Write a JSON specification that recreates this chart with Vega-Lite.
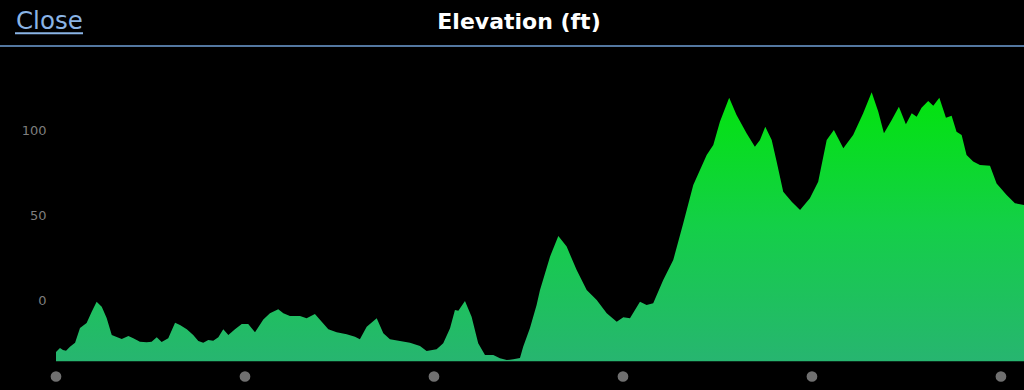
{
  "$schema": "https://vega.github.io/schema/vega-lite/v6.json",
  "width": 968,
  "height": 314.5,
  "autosize": {"type": "none"},
  "padding": {"left": 56, "top": 62, "right": 0, "bottom": 13.5},
  "background": "#000000",
  "config": {"view": {"stroke": null}},
  "datasets": {
    "elev": [
      {"d": 0, "e": -30.6}, {"d": 0.021, "e": -28.2}, {"d": 0.037, "e": -29.4}, {"d": 0.053, "e": -29.8},
      {"d": 0.074, "e": -27.5}, {"d": 0.101, "e": -25.1}, {"d": 0.127, "e": -16.5}, {"d": 0.162, "e": -13.5},
      {"d": 0.189, "e": -6.9}, {"d": 0.215, "e": -1.0}, {"d": 0.242, "e": -3.9}, {"d": 0.268, "e": -10.6},
      {"d": 0.295, "e": -20.6}, {"d": 0.321, "e": -21.8}, {"d": 0.348, "e": -22.9}, {"d": 0.383, "e": -21.2},
      {"d": 0.409, "e": -22.5}, {"d": 0.444, "e": -24.5}, {"d": 0.48, "e": -24.9}, {"d": 0.506, "e": -24.5},
      {"d": 0.533, "e": -21.9}, {"d": 0.559, "e": -24.7}, {"d": 0.594, "e": -22.5}, {"d": 0.63, "e": -13.4},
      {"d": 0.656, "e": -14.7}, {"d": 0.692, "e": -17.2}, {"d": 0.726, "e": -20.6}, {"d": 0.753, "e": -24.1},
      {"d": 0.779, "e": -25.1}, {"d": 0.806, "e": -23.5}, {"d": 0.832, "e": -23.9}, {"d": 0.859, "e": -21.9},
      {"d": 0.885, "e": -17.2}, {"d": 0.912, "e": -20.6}, {"d": 0.947, "e": -17.2}, {"d": 0.983, "e": -14.1},
      {"d": 1.017, "e": -14.1}, {"d": 1.053, "e": -19.0}, {"d": 1.097, "e": -11.4}, {"d": 1.132, "e": -7.8},
      {"d": 1.176, "e": -5.5}, {"d": 1.203, "e": -7.8}, {"d": 1.238, "e": -9.4}, {"d": 1.291, "e": -9.4},
      {"d": 1.326, "e": -10.8}, {"d": 1.37, "e": -8.2}, {"d": 1.406, "e": -12.8}, {"d": 1.441, "e": -17.2},
      {"d": 1.485, "e": -19.0}, {"d": 1.538, "e": -20.2}, {"d": 1.582, "e": -21.6}, {"d": 1.608, "e": -23.1},
      {"d": 1.644, "e": -15.7}, {"d": 1.697, "e": -10.8}, {"d": 1.732, "e": -19.6}, {"d": 1.767, "e": -23.1},
      {"d": 1.82, "e": -24.1}, {"d": 1.873, "e": -25.1}, {"d": 1.926, "e": -27.1}, {"d": 1.961, "e": -30.0},
      {"d": 2.014, "e": -29.0}, {"d": 2.049, "e": -25.5}, {"d": 2.085, "e": -16.6}, {"d": 2.111, "e": -5.9},
      {"d": 2.129, "e": -6.3}, {"d": 2.164, "e": -0.6}, {"d": 2.199, "e": -9.8}, {"d": 2.234, "e": -25.5},
      {"d": 2.27, "e": -32.4}, {"d": 2.314, "e": -32.4}, {"d": 2.349, "e": -34.3}, {"d": 2.385, "e": -35.3},
      {"d": 2.42, "e": -34.9}, {"d": 2.455, "e": -34.1}, {"d": 2.472, "e": -27.5}, {"d": 2.508, "e": -16.5},
      {"d": 2.543, "e": -2.9}, {"d": 2.561, "e": 5.9}, {"d": 2.614, "e": 25.5}, {"d": 2.658, "e": 37.6},
      {"d": 2.702, "e": 31.4}, {"d": 2.755, "e": 17.6}, {"d": 2.808, "e": 5.9}, {"d": 2.861, "e": 0},
      {"d": 2.914, "e": -7.8}, {"d": 2.967, "e": -12.8}, {"d": 3.002, "e": -10.2}, {"d": 3.037, "e": -10.8},
      {"d": 3.09, "e": -1.0}, {"d": 3.125, "e": -2.9}, {"d": 3.16, "e": -1.9}, {"d": 3.213, "e": 11.8},
      {"d": 3.266, "e": 23.5}, {"d": 3.319, "e": 45.1}, {"d": 3.372, "e": 67.6}, {"d": 3.443, "e": 85.3},
      {"d": 3.478, "e": 91.2}, {"d": 3.513, "e": 104.9}, {"d": 3.562, "e": 119.0}, {"d": 3.601, "e": 108.8},
      {"d": 3.654, "e": 98.1}, {"d": 3.698, "e": 90.2}, {"d": 3.725, "e": 94.1}, {"d": 3.753, "e": 101.9},
      {"d": 3.787, "e": 94.1}, {"d": 3.813, "e": 81.4}, {"d": 3.848, "e": 63.7}, {"d": 3.893, "e": 57.8},
      {"d": 3.937, "e": 52.9}, {"d": 3.989, "e": 59.8}, {"d": 4.033, "e": 69.6}, {"d": 4.078, "e": 94.1},
      {"d": 4.116, "e": 100.0}, {"d": 4.166, "e": 89.2}, {"d": 4.218, "e": 97.1}, {"d": 4.271, "e": 109.8},
      {"d": 4.316, "e": 122.2}, {"d": 4.351, "e": 110.8}, {"d": 4.381, "e": 98.1}, {"d": 4.422, "e": 105.9},
      {"d": 4.46, "e": 113.7}, {"d": 4.497, "e": 103.4}, {"d": 4.528, "e": 109.8}, {"d": 4.554, "e": 107.8},
      {"d": 4.58, "e": 113.1}, {"d": 4.615, "e": 117.1}, {"d": 4.642, "e": 114.3}, {"d": 4.674, "e": 119.0},
      {"d": 4.709, "e": 107.2}, {"d": 4.739, "e": 108.4}, {"d": 4.765, "e": 99.0}, {"d": 4.792, "e": 97.1},
      {"d": 4.818, "e": 85.3}, {"d": 4.853, "e": 81.4}, {"d": 4.889, "e": 79.4}, {"d": 4.942, "e": 79.0},
      {"d": 4.977, "e": 68.6}, {"d": 5.03, "e": 61.8}, {"d": 5.074, "e": 56.9}, {"d": 5.122, "e": 55.9}
    ],
    "marks": [{"d": 0}, {"d": 1}, {"d": 2}, {"d": 3}, {"d": 4}, {"d": 5}],
    "one": [{"k": 1}]
  },
  "layer": [
    {
      "data": {"name": "elev"},
      "mark": {
        "type": "area",
        "interpolate": "linear",
        "fill": {
          "gradient": "linear",
          "x1": 0, "y1": 0, "x2": 0, "y2": 1,
          "stops": [
            {"offset": 0, "color": "#02e40c"},
            {"offset": 0.5, "color": "#14cf48"},
            {"offset": 1, "color": "#27b570"}
          ]
        }
      },
      "encoding": {
        "x": {"field": "d", "type": "quantitative", "scale": {"domain": [0, 5.122], "nice": false, "zero": false}, "axis": null},
        "y": {
          "field": "e", "type": "quantitative",
          "scale": {"domain": [-45, 140], "nice": false, "zero": false},
          "axis": {
            "values": [0, 50, 100], "title": null, "domain": false, "ticks": false, "grid": false,
            "labelColor": "#7e7e7e", "labelFont": "DejaVu Sans", "labelFontSize": 13, "labelPadding": 10
          }
        },
        "y2": {"datum": -36}
      }
    },
    {
      "data": {"name": "marks"},
      "mark": {"type": "point", "filled": true, "color": "#707070", "size": 115, "opacity": 1},
      "encoding": {
        "x": {"field": "d", "type": "quantitative"},
        "y": {"datum": -45}
      }
    },
    {
      "data": {"name": "one"},
      "mark": {"type": "rule", "color": "#6f9fd6", "strokeWidth": 1.5},
      "encoding": {"x": {"value": -56}, "x2": {"value": 968}, "y": {"value": -16}}
    },
    {
      "data": {"name": "one"},
      "mark": {"type": "rule", "color": "#8ab4e6", "strokeWidth": 2},
      "encoding": {"x": {"value": -41}, "x2": {"value": 27}, "y": {"value": -28.7}}
    },
    {
      "data": {"name": "one"},
      "mark": {"type": "text", "text": "Close", "font": "DejaVu Sans", "fontSize": 24.5, "color": "#8ab4e6", "align": "left", "baseline": "alphabetic"},
      "encoding": {"x": {"value": -40}, "y": {"value": -33}}
    },
    {
      "data": {"name": "one"},
      "mark": {"type": "text", "text": "Elevation (ft)", "font": "DejaVu Sans", "fontSize": 22, "fontWeight": "bold", "color": "#ffffff", "align": "center", "baseline": "alphabetic"},
      "encoding": {"x": {"value": 463}, "y": {"value": -32.7}}
    }
  ]
}
